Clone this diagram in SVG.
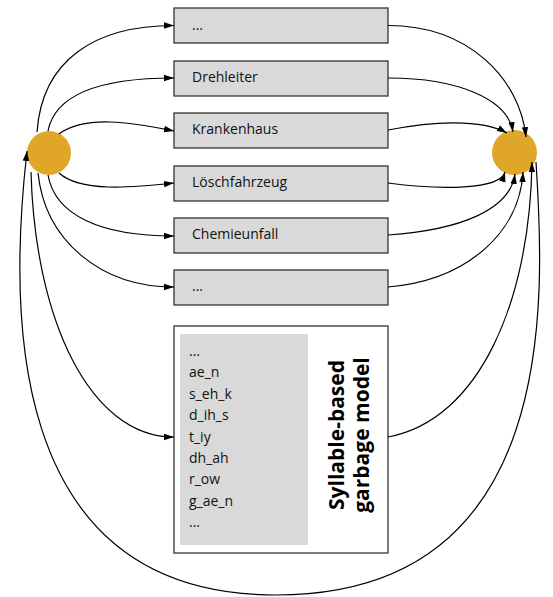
<svg xmlns="http://www.w3.org/2000/svg" width="553" height="597" viewBox="0 0 553 597">
  <style>
    .box { fill: #d9d9d9; stroke: #333; stroke-width: 1.3; }
    .frame { fill: #fff; stroke: #333; stroke-width: 1.3; }
    .state { fill: #dfa628; }
    .lbl { font-family: "Open Sans", "Liberation Sans", sans-serif; font-size: 14px; fill: #111; }
    .title { font-family: "Open Sans", "Liberation Sans", sans-serif; font-size: 21px; font-weight: bold; fill: #000; }
    .edge { fill: none; stroke: #000; stroke-width: 1.2; marker-end: url(#arrow); }
  </style>
  <defs>
    <marker id="arrow" markerUnits="userSpaceOnUse" markerWidth="10" markerHeight="8" viewBox="0 0 10 8" refX="10" refY="4" orient="auto">
      <path d="M0,0.8 L10,4 L0,7.2 z" fill="#000"/>
    </marker>
  </defs>

  <!-- word boxes -->
  <g id="box-dots-top"><rect class="box" x="174" y="8" width="214" height="35"/><text class="lbl" x="192" y="29.5">...</text></g>
  <g id="box-drehleiter"><rect class="box" x="174" y="61" width="214" height="35"/><text class="lbl" x="192" y="82">Drehleiter</text></g>
  <g id="box-krankenhaus"><rect class="box" x="174" y="113" width="214" height="35"/><text class="lbl" x="192" y="134">Krankenhaus</text></g>
  <g id="box-loeschfahrzeug"><rect class="box" x="174" y="166" width="214" height="35"/><text class="lbl" x="192" y="187">Löschfahrzeug</text></g>
  <g id="box-chemieunfall"><rect class="box" x="174" y="218" width="214" height="35"/><text class="lbl" x="192" y="239">Chemieunfall</text></g>
  <g id="box-dots-bottom"><rect class="box" x="174" y="270" width="214" height="35"/><text class="lbl" x="192" y="291">...</text></g>

  <!-- garbage model -->
  <g id="garbage-model">
    <rect class="frame" x="174" y="326" width="214" height="227"/>
    <rect x="180" y="334" width="128" height="211" fill="#d9d9d9"/>
    <text class="lbl" x="189">
      <tspan x="189" y="356">...</tspan>
      <tspan x="189" y="377.4">ae_n</tspan>
      <tspan x="189" y="398.8">s_eh_k</tspan>
      <tspan x="189" y="420.2">d_ih_s</tspan>
      <tspan x="189" y="441.6">t_iy</tspan>
      <tspan x="189" y="463">dh_ah</tspan>
      <tspan x="189" y="484.4">r_ow</tspan>
      <tspan x="189" y="505.8">g_ae_n</tspan>
      <tspan x="189" y="527.2">...</tspan>
    </text>
    <text class="title" transform="translate(344,435) rotate(-90)" text-anchor="middle">Syllable-based</text>
    <text class="title" transform="translate(369,435) rotate(-90)" text-anchor="middle">garbage model</text>
  </g>

  <!-- start and end states -->
  <g id="start"><circle class="state" cx="49" cy="153" r="22"/></g>
  <g id="end"><circle class="state" cx="514.5" cy="152.5" r="22.5"/></g>

  <g id="connectors">
    <!-- start to words -->
    <path class="edge" d="M37,132 C42,60 95,25.5 174,25.5"/>
    <path class="edge" d="M48,131 C55,95 100,78 174,78"/>
    <path class="edge" d="M59,134 C85,115 130,122 174,131"/>
    <path class="edge" d="M59,173 C80,192 130,188 174,183"/>
    <path class="edge" d="M48,175 C55,215 100,236 174,236"/>
    <path class="edge" d="M38,173 C45,240 100,287 174,287"/>
    <path class="edge" d="M31,172 C35,320 90,437 174,437"/>
    <!-- words to end -->
    <path class="edge" d="M388,25.5 C470,25.5 520,80 526,137"/>
    <path class="edge" d="M388,78 C460,78 508,100 513,132"/>
    <path class="edge" d="M388,130 C430,122 480,118 507,133"/>
    <path class="edge" d="M388,183 C440,190 500,190 505,172"/>
    <path class="edge" d="M388,235 C460,230 510,210 515,174"/>
    <path class="edge" d="M388,287 C470,280 520,230 523,172"/>
    <path class="edge" d="M388,437 C480,420 530,300 532,162"/>
    <!-- loop back from end to start -->
    <path class="edge" d="M536,162 C545,300 560,595 276,595 C0,595 10,300 27,151"/>
  </g>
</svg>
